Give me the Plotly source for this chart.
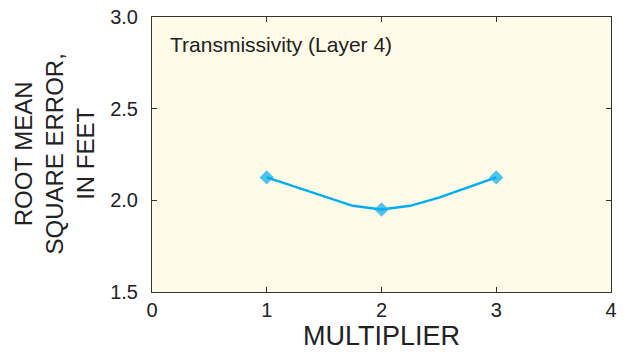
import plotly.graph_objects as go

multiplier = [1, 1.5, 1.75, 2, 2.25, 2.5, 3]
rmse = [2.125, 2.02, 1.97, 1.95, 1.97, 2.015, 2.125]
marker_sizes = [11, 0, 0, 11, 0, 0, 11]
x_ticks = [0, 1, 2, 3, 4]
y_ticks = [1.5, 2.0, 2.5, 3.0]
y_tick_text = ["1.5", "2.0", "2.5", "3.0"]

FONT = "Liberation Sans, Arial, sans-serif"
AX = "#333333"
TXT = "#222222"

fig = go.Figure()
fig.add_trace(go.Scatter(
    x=multiplier, y=rmse, mode="lines+markers",
    line=dict(color="#00AEEF", width=2.5),
    marker=dict(symbol="diamond", size=marker_sizes, color="#00AEEF", line=dict(width=0)),
    showlegend=False,
))

fig.update_layout(
    width=626, height=358,
    margin=dict(l=152, r=15, t=17, b=66, autoexpand=False),
    paper_bgcolor="white",
    plot_bgcolor="#FEFBE9",
    font=dict(family=FONT, color=TXT),
    xaxis=dict(
        range=[0, 4], tickvals=x_ticks, ticks="inside", ticklen=5, tickcolor=AX,
        showline=True, linecolor=AX, linewidth=1, mirror="ticks", showgrid=False,
        zeroline=False, tickfont=dict(size=20, color=TXT), automargin=False,
        ticklabeloverflow="allow",
        title=dict(text="MULTIPLIER", font=dict(size=27, color=TXT), standoff=2),
    ),
    yaxis=dict(
        range=[1.5, 3.0], tickvals=y_ticks, ticktext=y_tick_text, ticks="inside", ticklen=5,
        tickcolor=AX, showline=True, linecolor=AX, linewidth=1, mirror="ticks",
        showgrid=False, zeroline=False, tickfont=dict(size=20, color=TXT),
        ticklabelstandoff=9, automargin=False, ticklabeloverflow="allow",
    ),
    annotations=[
        dict(text="ROOT MEAN<br>SQUARE ERROR,<br>IN FEET", xref="paper", yref="paper",
             x=0, y=0.5, xshift=-98, xanchor="center", yanchor="middle", textangle=-90,
             showarrow=False, font=dict(size=24, color=TXT)),
        dict(text="Transmissivity (Layer 4)", xref="paper", yref="paper",
             x=0, y=1, xshift=16, yshift=-14, xanchor="left", yanchor="top",
             showarrow=False, font=dict(size=21, color=TXT)),
    ],
)

fig.write_html("out.html", config={"displayModeBar": False},
               post_script="document.body.style.margin='0';")
